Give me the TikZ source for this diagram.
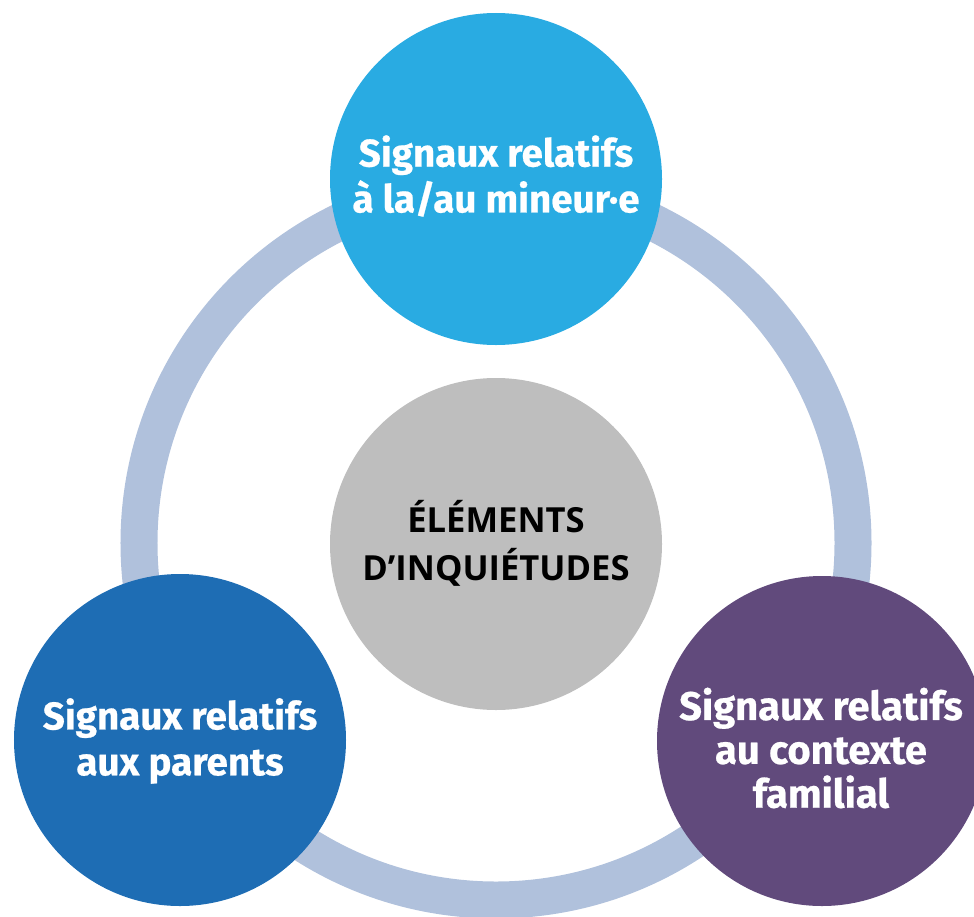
\documentclass[tikz,border=0pt]{standalone}
\usepackage{fontspec}
\setmainfont{Fira Sans}
\newfontfamily\labfont[FakeBold=0.6]{Fira Sans}
\newfontfamily\ctrfont{Open Sans}
\definecolor{ringc}{HTML}{B0C1DC}
\definecolor{topc}{HTML}{29ABE2}
\definecolor{leftc}{HTML}{1E6DB4}
\definecolor{rightc}{HTML}{614A7C}
\definecolor{ctrc}{HTML}{BEBEBE}
\begin{document}
\begin{tikzpicture}[x=1bp,y=-1bp,
  bubble/.style={circle, minimum size=332bp, inner sep=0pt},
  bubbletext/.style={inner sep=0pt, text=white, align=center,
    font=\labfont\bfseries\fontsize{38.7}{46}\selectfont},
  ringstyle/.style={circle, draw=ringc, line width=37bp, minimum size=714bp, inner sep=0pt},
  centre/.style={circle, minimum size=332bp, inner sep=0pt, fill=ctrc},
  centretext/.style={inner sep=0pt, text=black, align=center,
    font=\ctrfont\bfseries\fontsize{34.7}{48}\selectfont}
]
\useasboundingbox (0,0) rectangle (974,917);
\clip (0,0) rectangle (974,917);
\node[ringstyle] (ring) at (496,543) {};
\node[centre] (ctr) at (496,544) {};
\node[centretext] (ctrtext) at (496,543) {ÉLÉMENTS\\D’INQUIÉTUDES};
\node[bubble, fill=topc] (top) at (496,179) {};
\node[bubbletext] (toptext) at (496,176) {Signaux relatifs\\à la/au mineur·e};
\node[bubble, fill=leftc] (left) at (180,740) {};
\node[bubbletext] (lefttext) at (180,741) {Signaux relatifs\\aux parents};
\node[bubble, fill=rightc, minimum size=330bp] (right) at (822,741) {};
\node[bubbletext, font=\labfont\bfseries\fontsize{40}{44}\selectfont] (righttext) at (821,748) {Signaux relatifs\\au contexte\\familial};
\end{tikzpicture}
\end{document}
